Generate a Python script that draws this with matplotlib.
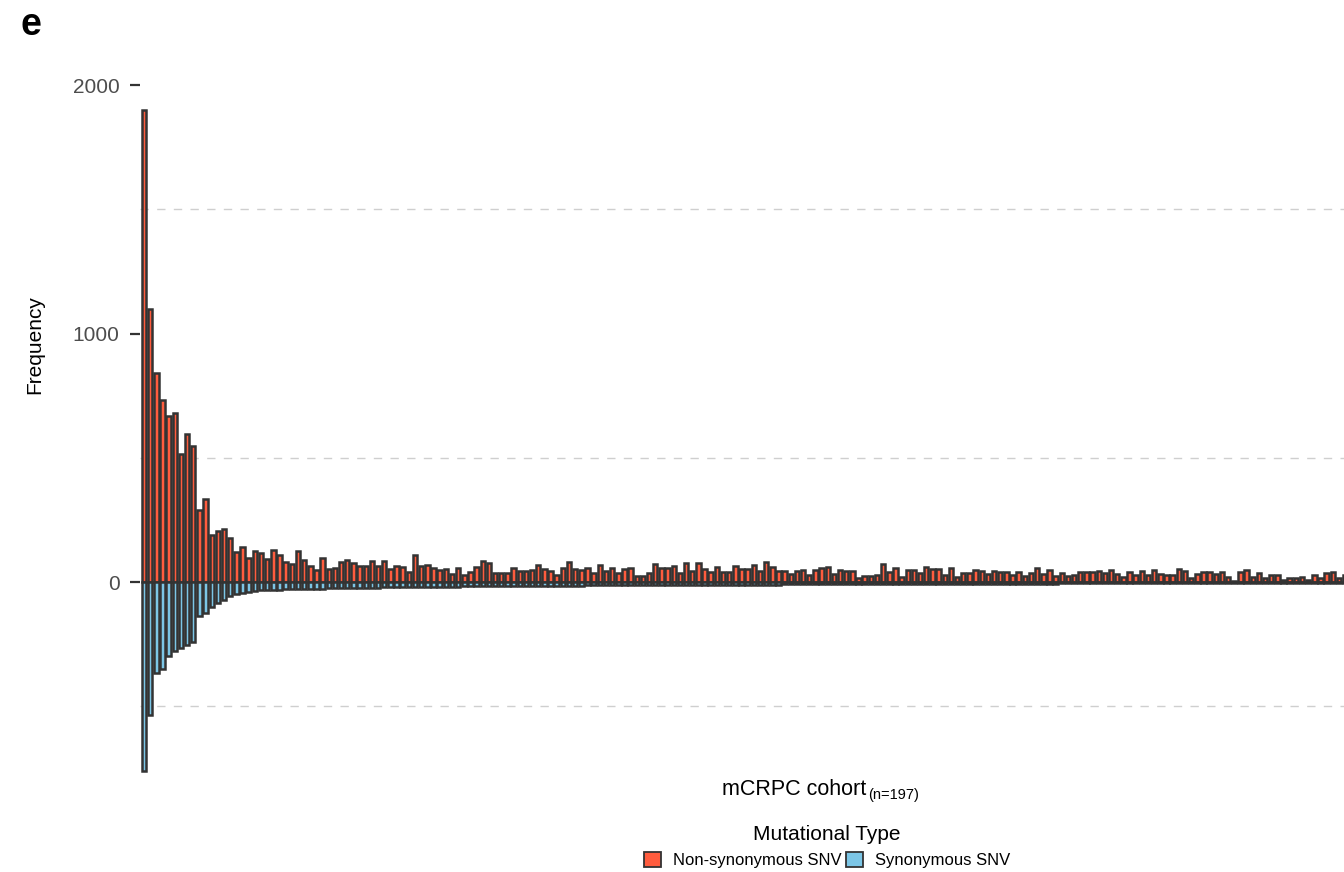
import matplotlib
matplotlib.use("Agg")
import matplotlib.pyplot as plt
from matplotlib.patches import Patch
import numpy as np

plt.rcParams['font.family'] = ['Liberation Sans', 'DejaVu Sans']

# Per-sample SNV counts, samples ordered by synonymous burden
non_synonymous = [
    1900, 1100, 840, 735, 668, 681, 515, 598, 547, 290,
    333, 190, 205, 215, 178, 122, 140, 98, 124, 118,
    94, 129, 111, 82, 71, 126, 89, 63, 48, 97,
    53, 57, 79, 91, 78, 65, 64, 85, 66, 85,
    51, 64, 62, 39, 109, 66, 67, 58, 48, 52,
    34, 58, 28, 42, 62, 85, 75, 38, 38, 38,
    58, 44, 44, 48, 67, 52, 44, 27, 58, 82,
    52, 48, 55, 38, 68, 46, 58, 35, 52, 56,
    25, 25, 35, 71, 58, 58, 64, 35, 78, 44,
    78, 52, 42, 62, 39, 39, 64, 51, 51, 68,
    44, 79, 62, 46, 45, 32, 44, 48, 28, 48,
    55, 62, 32, 48, 46, 46, 17, 24, 24, 27,
    71, 39, 55, 21, 48, 48, 38, 62, 52, 52,
    27, 58, 21, 38, 35, 48, 46, 32, 44, 42,
    42, 27, 39, 24, 38, 58, 32, 48, 24, 35,
    24, 28, 42, 42, 42, 46, 35, 48, 32, 19,
    42, 28, 46, 28, 48, 32, 28, 28, 51, 44,
    15, 32, 42, 42, 32, 42, 21, 5, 42, 48,
    21, 38, 15, 28, 28, 8, 15, 15, 21, 8,
    28, 15, 38, 42, 15, 30, 22,
]

synonymous = [
    -760, -535, -365, -349, -298, -276, -264, -253, -243, -136,
    -126, -99, -86, -72, -56, -48, -43, -39, -36, -33,
    -32, -31, -30, -29, -29, -28, -27, -27, -26, -26,
    -25, -25, -24, -24, -23, -23, -22, -22, -22, -21,
    -21, -21, -20, -20, -20, -19, -19, -19, -18, -18,
    -18, -18, -17, -17, -17, -17, -16, -16, -16, -16,
    -16, -15, -15, -15, -15, -15, -14, -14, -14, -14,
    -14, -14, -13, -13, -13, -13, -13, -13, -12, -12,
    -12, -12, -12, -12, -12, -12, -11, -11, -11, -11,
    -11, -11, -11, -11, -10, -10, -10, -10, -10, -10,
    -10, -10, -10, -10, -9, -9, -9, -9, -9, -9,
    -9, -9, -9, -9, -9, -8, -8, -8, -8, -8,
    -8, -8, -8, -8, -8, -8, -8, -7, -7, -7,
    -7, -7, -7, -7, -7, -7, -7, -7, -6, -6,
    -6, -6, -6, -6, -6, -6, -6, -6, -6, -5,
    -5, -5, -5, -5, -5, -5, -5, -5, -5, -5,
    -5, -5, -4, -4, -4, -4, -4, -4, -4, -4,
    -4, -4, -4, -4, -4, -4, -3, -3, -3, -3,
    -3, -3, -3, -3, -3, -3, -3, -3, -3, -3,
    -2, -2, -2, -2, -2, -2, -2,
]

series_labels = ['Non-synonymous SNV', 'Synonymous SNV']
series_colors = ['#FF5C3E', '#7CC6E6']
edge = '#333333'

y_ticks = [0, 1000, 2000]
y_grid = [-500, 500, 1500]

W, H = 1344, 872
fig = plt.figure(figsize=(W / 100, H / 100), dpi=100)
ax = fig.add_axes([140.3 / W, 1 - 804 / H, (1355 - 140.3) / W, (804 - 77) / H])

x = np.arange(1, len(non_synonymous) + 1)
ax.bar(x, non_synonymous, width=0.72, color=series_colors[0], edgecolor=edge,
       linewidth=1.8, zorder=3)
ax.bar(x, synonymous, width=0.72, color=series_colors[1], edgecolor=edge,
       linewidth=1.8, zorder=3)

for g in y_grid:
    ax.axhline(g, color='#cfcfcf', linewidth=1.0, linestyle=(0, (6, 6)), zorder=1)

ax.set_xlim(0.4, len(x) + 0.6)
ax.set_ylim(-893, 2033)
ax.set_xticks([])
ax.set_yticks(y_ticks)
ax.set_yticklabels([str(v) for v in y_ticks])
ax.tick_params(axis='y', length=7, width=1.6, color=edge, pad=8,
               labelsize=15, labelcolor='#4D4D4D')
for s in ax.spines.values():
    s.set_visible(False)

fig.text(20 / W, 1 - 25 / H, 'e', fontsize=27, fontweight='bold', va='center', ha='left')
fig.text(35 / W, 1 - 345 / H, 'Frequency', rotation=90, fontsize=15,
         va='center', ha='center')

fig.text(866 / W, 1 - 795 / H, 'mCRPC cohort', fontsize=15.5, ha='right', va='baseline')
fig.text(868 / W, 1 - 799 / H, '(n=197)', fontsize=10.5, ha='left', va='baseline')

handles = [Patch(facecolor=c, edgecolor=edge, linewidth=1.3) for c in series_colors]
leg = fig.legend(handles, series_labels, loc='upper center',
                 bbox_to_anchor=(827 / W, 1 - 813 / H), ncol=2, frameon=False,
                 title='Mutational Type', title_fontsize=15, fontsize=12,
                 handlelength=1.0, handleheight=1.0, handletextpad=0.7,
                 columnspacing=0.3, borderpad=0.2)

fig.savefig('out.png', dpi=100, facecolor='white')
